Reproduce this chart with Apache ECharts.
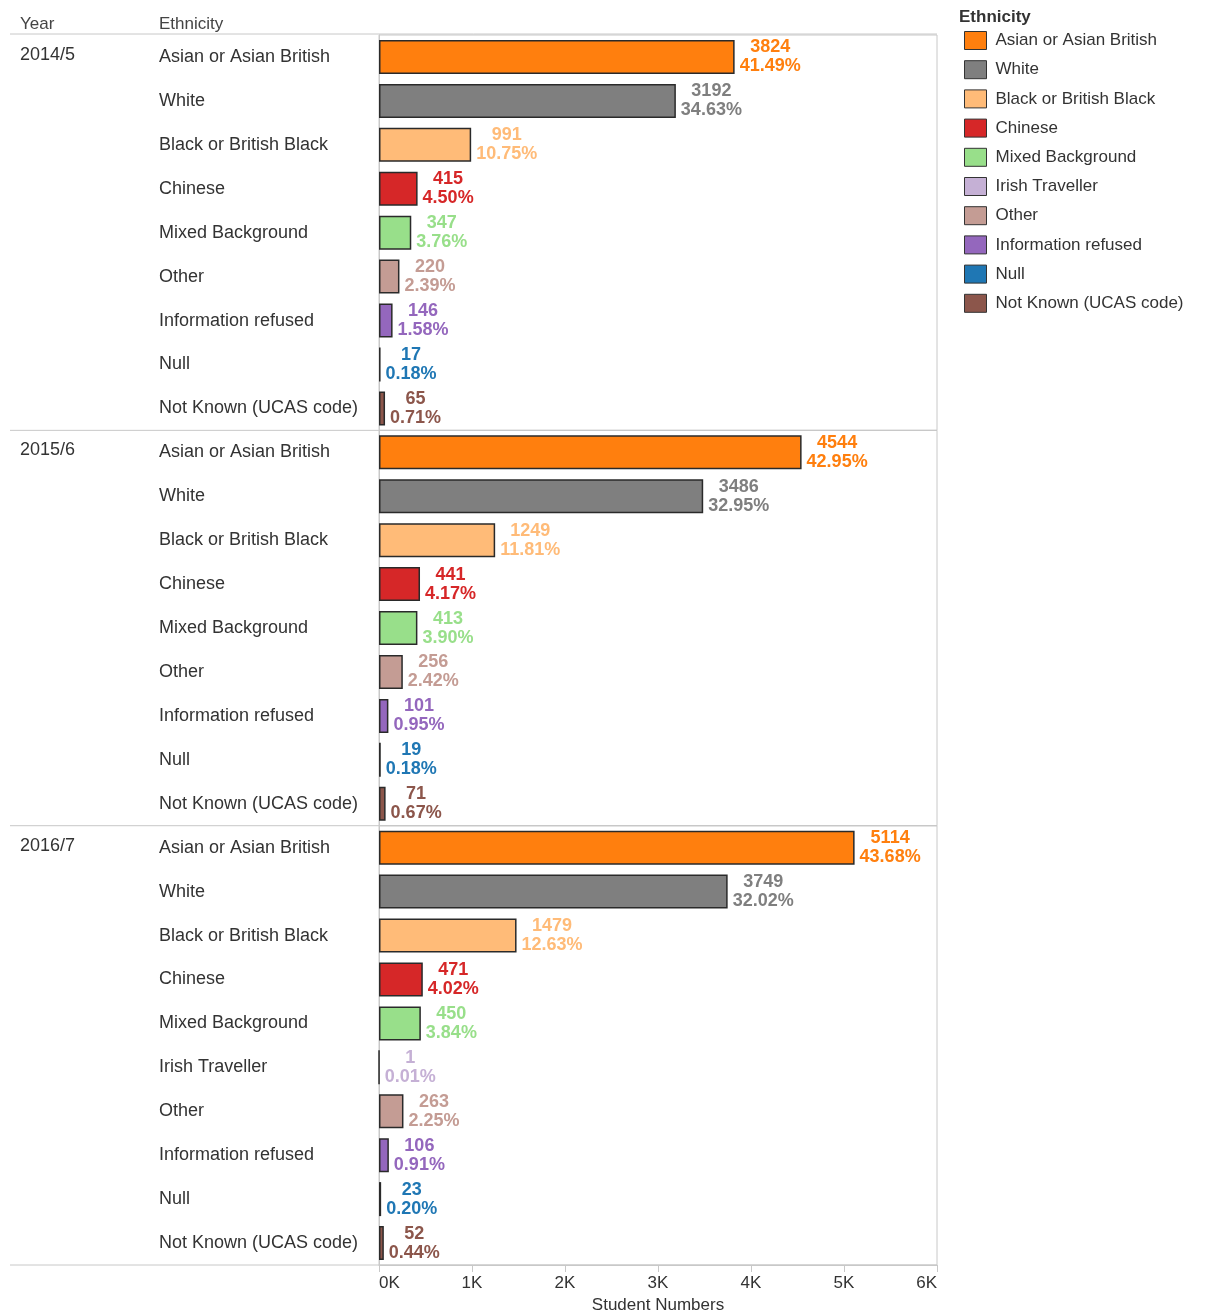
<!DOCTYPE html>
<html>
<head>
<meta charset="utf-8">
<script src="https://cdn.jsdelivr.net/npm/echarts@6/dist/echarts.min.js"></script>
<style>
  html, body { margin: 0; padding: 0; background: #fff; }
  #chart { width: 1215px; height: 1313px; }
</style>
</head>
<body>
<div id="chart"></div>
<script>
// Student numbers by ethnicity, one panel per academic year
const years = ['2014/5', '2015/6', '2016/7'];

const ethnicities = [
  'Asian or Asian British', 'White', 'Black or British Black', 'Chinese',
  'Mixed Background', 'Irish Traveller', 'Other', 'Information refused',
  'Null', 'Not Known (UCAS code)'
];
const ethnicityColors = [
  '#ff7f0e', '#7f7f7f', '#ffbb78', '#d62728', '#98df8a',
  '#c5b0d5', '#c49c94', '#9467bd', '#1f77b4', '#8c564b'
];

const categories2014 = ['Asian or Asian British', 'White', 'Black or British Black', 'Chinese',
  'Mixed Background', 'Other', 'Information refused', 'Null', 'Not Known (UCAS code)'];
const values2014 = [3824, 3192, 991, 415, 347, 220, 146, 17, 65];
const percents2014 = [41.49, 34.63, 10.75, 4.50, 3.76, 2.39, 1.58, 0.18, 0.71];

const categories2015 = ['Asian or Asian British', 'White', 'Black or British Black', 'Chinese',
  'Mixed Background', 'Other', 'Information refused', 'Null', 'Not Known (UCAS code)'];
const values2015 = [4544, 3486, 1249, 441, 413, 256, 101, 19, 71];
const percents2015 = [42.95, 32.95, 11.81, 4.17, 3.90, 2.42, 0.95, 0.18, 0.67];

const categories2016 = ['Asian or Asian British', 'White', 'Black or British Black', 'Chinese',
  'Mixed Background', 'Irish Traveller', 'Other', 'Information refused', 'Null', 'Not Known (UCAS code)'];
const values2016 = [5114, 3749, 1479, 471, 450, 1, 263, 106, 23, 52];
const percents2016 = [43.68, 32.02, 12.63, 4.02, 3.84, 0.01, 2.25, 0.91, 0.20, 0.44];

const xTicks = [0, 1000, 2000, 3000, 4000, 5000, 6000];

const panels = [
  { year: years[0], cats: categories2014, vals: values2014, pcts: percents2014 },
  { year: years[1], cats: categories2015, vals: values2015, pcts: percents2015 },
  { year: years[2], cats: categories2016, vals: values2016, pcts: percents2016 }
];

// layout
const FONT = '"Liberation Sans", Arial, sans-serif';
const plotLeft = 379, plotRight = 937;
const tableLeft = 10;
const tableTop = 35, tableBottom = 1265;
const totalRows = panels.reduce((s, p) => s + p.cats.length, 0);
const rowH = (tableBottom - tableTop) / totalRows;
const ruleColor = '#c8c8c8';
const textColor = '#333';

const grids = [], xAxes = [], yAxes = [], series = [], graphics = [];
let rowCursor = 0;

panels.forEach((p, g) => {
  const top = tableTop + rowCursor * rowH;
  const height = p.cats.length * rowH;
  const isLast = g === panels.length - 1;
  rowCursor += p.cats.length;

  grids.push({
    left: plotLeft, top: top, width: plotRight - plotLeft, height: height,
    outerBoundsMode: 'none', containLabel: false,
    show: true, borderColor: ruleColor, borderWidth: 1, backgroundColor: 'transparent'
  });

  xAxes.push({
    type: 'value', gridIndex: g,
    min: xTicks[0], max: xTicks[xTicks.length - 1], interval: xTicks[1] - xTicks[0],
    splitLine: { show: false },
    axisLine: { show: isLast, lineStyle: { color: ruleColor } },
    axisTick: { show: isLast, length: 7, lineStyle: { color: ruleColor } },
    axisLabel: {
      show: isLast, margin: 10, color: textColor, fontFamily: FONT, fontSize: 17,
      alignMinLabel: 'left', alignMaxLabel: 'right',
      formatter: v => (v / 1000) + 'K'
    },
    name: isLast ? 'Student Numbers' : '',
    nameLocation: 'middle', nameGap: 32,
    nameTextStyle: { color: textColor, fontFamily: FONT, fontSize: 17 }
  });

  yAxes.push({
    type: 'category', gridIndex: g, inverse: true, data: p.cats,
    axisLine: { show: true, lineStyle: { color: ruleColor } },
    axisTick: { show: false },
    axisLabel: {
      align: 'left', margin: plotLeft - 159, color: textColor,
      fontFamily: FONT, fontSize: 18
    }
  });

  p.cats.forEach((cat, i) => {
    const e = ethnicities.indexOf(cat);
    const color = ethnicityColors[e];
    series.push({
      type: 'bar', name: cat, xAxisIndex: g, yAxisIndex: g, stack: 'panel' + g,
      barWidth: 34,
      data: p.cats.map((c, j) => (j === i ? p.vals[j] : '-')),
      itemStyle: { color: color, borderColor: '#2a2a2a', borderWidth: 1.5 },
      label: {
        show: true, position: 'right', distance: 5,
        formatter: params => '{v|' + params.value + '}\n{v|' + p.pcts[params.dataIndex].toFixed(2) + '%}',
        rich: {
          v: { align: 'center', color: color, fontFamily: FONT, fontSize: 18,
               fontWeight: 'bold', lineHeight: 19 }
        }
      },
      emphasis: { disabled: true },
      silent: true
    });
  });

  // year label on the first row of its panel
  graphics.push({
    type: 'text', left: 20, top: top + rowH / 2 - 11,
    style: { text: p.year, fill: textColor, font: '18px ' + FONT }
  });
  // panel separator extending across the header columns
  graphics.push({
    type: 'line', shape: { x1: tableLeft, y1: top + height, x2: plotRight, y2: top + height },
    style: { stroke: ruleColor, lineWidth: 1 }
  });
});

// column headers and the rule under them
graphics.push({ type: 'text', left: 20, top: 16, style: { text: 'Year', fill: '#444', font: '17px ' + FONT } });
graphics.push({ type: 'text', left: 159, top: 16, style: { text: 'Ethnicity', fill: '#444', font: '17px ' + FONT } });
graphics.push({
  type: 'line', shape: { x1: tableLeft, y1: tableTop - 1, x2: plotRight, y2: tableTop - 1 },
  style: { stroke: ruleColor, lineWidth: 1 }
});

const chart = echarts.init(document.getElementById('chart'), null, { renderer: 'canvas' });
chart.setOption({
  animation: false,
  backgroundColor: '#fff',
  title: {
    text: 'Ethnicity', left: 954, top: 4,
    textStyle: { color: textColor, fontFamily: FONT, fontSize: 17, fontWeight: 'bold' }
  },
  legend: {
    orient: 'vertical', left: 959, top: 26,
    data: ethnicities, icon: 'rect', itemWidth: 22, itemHeight: 18, itemGap: 10.2,
    selectedMode: false,
    itemStyle: { borderColor: '#333', borderWidth: 1 },
    textStyle: { color: textColor, fontFamily: FONT, fontSize: 17, padding: [0, 0, 0, 4] }
  },
  grid: grids,
  xAxis: xAxes,
  yAxis: yAxes,
  series: series,
  graphic: graphics
});
</script>
</body>
</html>
